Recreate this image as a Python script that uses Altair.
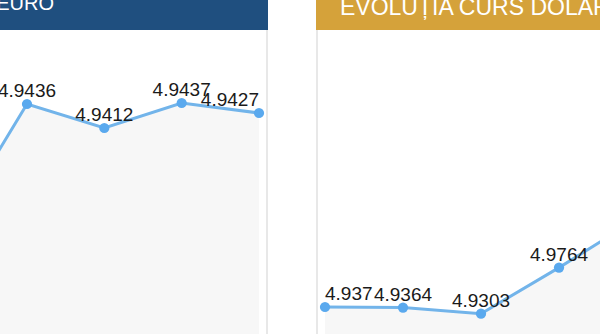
import altair as alt
import pandas as pd

# --- data ---
euro_zi = [1, 2, 3, 4, 5]
euro_curs = [4.9308, 4.9436, 4.9412, 4.9437, 4.9427]

dolar_zi = [1, 2, 3, 4, 5]
dolar_curs = [4.9370, 4.9364, 4.9303, 4.9764, 5.0250]

titlu_euro = "EVOLUȚIA CURS EURO"
titlu_dolar = "EVOLUȚIA CURS DOLAR"

FONT = "Liberation Sans"
H = 334


def make_df(zi, curs):
    return pd.DataFrame({"zi": zi, "curs": curs, "eticheta": [f"{v:g}" for v in curs]})


def panel(df, xdom, ydom, w, hdr_color, hdr_text, hdr_x, hdr_align, hdr_y, hdr_size,
          edge_x, first_align, last_align):
    base = alt.Chart(df).encode(
        x=alt.X("zi:Q", scale=alt.Scale(domain=xdom, nice=False, zero=False), axis=None),
        y=alt.Y("curs:Q", scale=alt.Scale(domain=ydom, nice=False, zero=False), axis=None),
    )
    area = base.mark_area(color="#f7f7f7", clip=True).encode(y2=alt.Y2(datum=ydom[0]))
    line = base.mark_line(color="#72b4ea", strokeWidth=3, clip=True)
    pts = base.mark_circle(size=105, color="#5aa9ee", opacity=1, clip=True)

    def lab(align, cond):
        return base.transform_filter(cond).mark_text(
            align=align, baseline="alphabetic", dy=-7, font=FONT, fontSize=19,
            color="#1a1a1a", clip=True
        ).encode(text="eticheta:N")

    labels = [
        lab("center", f"datum.zi > {df.zi.min()} && datum.zi < {df.zi.max()}"),
        lab(first_align, f"datum.zi == {df.zi.min()}"),
        lab(last_align, f"datum.zi == {df.zi.max()}"),
    ]

    hdr_df = pd.DataFrame({"titlu": [hdr_text]})
    header = alt.Chart(hdr_df).mark_rect(color=hdr_color).encode(
        x=alt.value(0), x2=alt.value(w), y=alt.value(0), y2=alt.value(30)
    )
    htext = alt.Chart(hdr_df).mark_text(
        align=hdr_align, baseline="alphabetic", font=FONT, fontSize=hdr_size,
        color="white", clip=True
    ).encode(x=alt.value(hdr_x), y=alt.value(hdr_y), text="titlu:N")
    border = alt.Chart(hdr_df).mark_rule(color="#e8e8e8", strokeWidth=2).encode(
        x=alt.value(edge_x), y=alt.value(30), y2=alt.value(H)
    )
    return alt.layer(area, line, pts, *labels, border, header, htext).properties(
        width=w, height=H
    )


left = panel(make_df(euro_zi, euro_curs),
             xdom=[1.6509, 5.1165], ydom=[4.9206, 4.9540], w=268,
             hdr_color="#1f4f7f", hdr_text=titlu_euro, hdr_x=54, hdr_align="right",
             hdr_y=9.5, hdr_size=20, edge_x=267, first_align="center", last_align="right")

right = panel(make_df(dolar_zi, dolar_curs),
              xdom=[0.8846, 4.5256], ydom=[4.910, 5.244], w=284,
              hdr_color="#d5a23a", hdr_text=titlu_dolar, hdr_x=24, hdr_align="left",
              hdr_y=15, hdr_size=23, edge_x=1, first_align="left", last_align="center")

chart = alt.hconcat(left, right, spacing=48).properties(
    padding=0, background="white"
).configure_view(stroke=None)

chart.save("out.html", embed_options={"renderer": "svg", "actions": False})
